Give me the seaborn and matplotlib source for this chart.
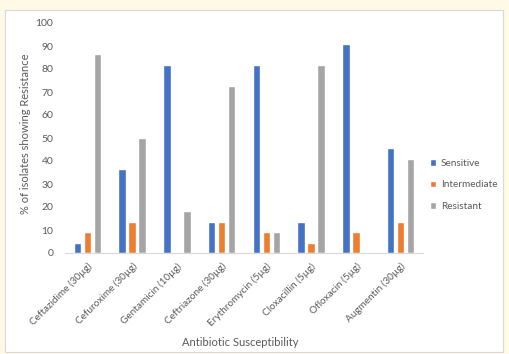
import matplotlib
matplotlib.use("Agg")
import matplotlib.pyplot as plt
from matplotlib.patches import Rectangle
import seaborn as sns
import pandas as pd

antibiotics = ["Ceftazidime (30µg)", "Cefuroxime (30µg)", "Gentamicin (10µg)",
               "Ceftriazone (30µg)", "Erythromycin (5µg)", "Cloxacillin (5µg)",
               "Ofloxacin (5µg)", "Augmentin (30µg)"]
sensitive = [4.5, 36.4, 81.8, 13.6, 81.8, 13.6, 90.9, 45.5]
intermediate = [9.1, 13.6, 0.0, 13.6, 9.1, 4.5, 9.1, 13.6]
resistant = [86.4, 50.0, 18.2, 72.7, 9.1, 81.8, 0.0, 40.9]
series_names = ["Sensitive", "Intermediate", "Resistant"]
y_ticks = list(range(0, 101, 10))

df = pd.DataFrame({
    "Antibiotic": antibiotics * 3,
    "Status": [s for s in series_names for _ in antibiotics],
    "Percent": sensitive + intermediate + resistant,
})

sns.set_theme(style="white")
plt.rcParams["font.family"] = ["Lato", "DejaVu Sans"]

text_grey = "#595959"
palette = {"Sensitive": "#4472C4", "Intermediate": "#ED7D31", "Resistant": "#A5A5A5"}

fig = plt.figure(figsize=(5.09, 3.54), dpi=100)
fig.patch.set_facecolor("#FFF9E6")

# white chart frame behind the axes
frame = Rectangle((5 / 509, 2 / 354), 498 / 509, 342 / 354, transform=fig.transFigure,
                  facecolor="white", edgecolor="#D9D9D9", linewidth=0.8, zorder=-10)
fig.patches.append(frame)

ax = fig.add_axes([65 / 509, 1 - 253 / 354, 358 / 509, 230 / 354])
ax.set_facecolor("none")

sns.barplot(data=df, x="Antibiotic", y="Percent", hue="Status", hue_order=series_names,
            palette=palette, width=0.67, gap=0.25, saturation=1, ax=ax, legend=True)

ax.set_ylim(0, 100)
ax.set_xlim(-0.5, len(antibiotics) - 0.5)
ax.set_yticks(y_ticks)
ax.set_yticklabels([str(t) for t in y_ticks], fontsize=7.5, color=text_grey)
ax.set_xticks(range(len(antibiotics)))
ax.set_xticklabels(antibiotics, rotation=45, ha="right", rotation_mode="anchor",
                   fontsize=7.2, color=text_grey)
ax.tick_params(axis="y", length=0, pad=8.5)
ax.tick_params(axis="x", length=0, pad=6)

for side in ["top", "right", "left"]:
    ax.spines[side].set_visible(False)
ax.spines["bottom"].set_color("#D9D9D9")
ax.spines["bottom"].set_linewidth(0.8)

ax.set_ylabel("% of isolates showing Resistance", fontsize=8, color=text_grey)
ax.yaxis.set_label_coords(-0.095, 0.52)
ax.set_xlabel("Antibiotic Susceptibility", fontsize=8, color=text_grey)
ax.xaxis.set_label_coords(0.49, -0.365)

handles, labels = ax.get_legend_handles_labels()
ax.legend(handles, labels, loc="center left", bbox_to_anchor=(1.02, 0.296), frameon=False,
          fontsize=7.2, labelcolor=text_grey, handlelength=0.6, handleheight=0.6,
          handletextpad=0.45, labelspacing=1.25, borderaxespad=0, borderpad=0)

fig.savefig("out.png", dpi=100, facecolor=fig.get_facecolor())
